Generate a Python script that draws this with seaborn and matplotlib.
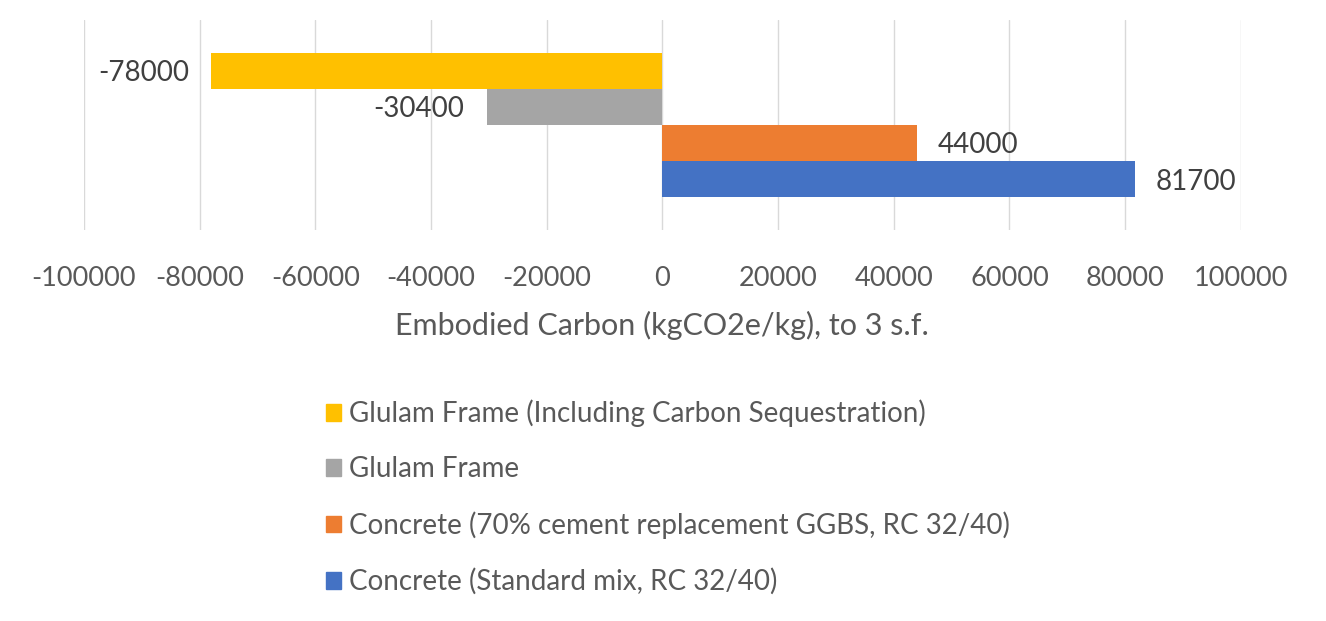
import matplotlib
matplotlib.use("Agg")
import matplotlib.pyplot as plt
import matplotlib.patches as mpatches
import pandas as pd
import seaborn as sns

# dados
series = [
    "Glulam Frame (Including Carbon Sequestration)",
    "Glulam Frame",
    "Concrete (70% cement replacement GGBS, RC 32/40)",
    "Concrete (Standard mix, RC 32/40)",
]
values = [-78000, -30400, 44000, 81700]
colors = ["#FFC000", "#A5A5A5", "#ED7D31", "#4472C4"]
ticks = [-100000, -80000, -60000, -40000, -20000, 0, 20000, 40000, 60000, 80000, 100000]

sns.set_style("white")
plt.rcParams["font.family"] = ["Lato", "DejaVu Sans"]
txt = "#595959"

df = pd.DataFrame({"serie": series, "valor": values})

fig = plt.figure(figsize=(13.26, 6.21), dpi=100)
ax = fig.add_axes([0.0633, 0.6296, 0.8725, 0.338])

sns.barplot(data=df, x="valor", y="serie", hue="serie", palette=colors,
            orient="h", width=1.0, dodge=False, legend=False, saturation=1,
            linewidth=0, ax=ax)

ax.set_xlim(-100000, 100000)
ax.set_ylim(4.4, -1.4)
ax.set_xticks(ticks)
ax.set_xticklabels([str(t) for t in ticks])
ax.tick_params(axis="x", length=0, pad=26, labelsize=19.5, labelcolor=txt)
ax.set_yticks([])
ax.set_ylabel("")
ax.set_xlabel("Embodied Carbon (kgCO2e/kg), to 3 s.f.", fontsize=22, color=txt, labelpad=14)
ax.grid(axis="x", color="#D9D9D9", linewidth=1)
ax.set_axisbelow(True)
for s in ax.spines.values():
    s.set_visible(False)

# rótulos de valor
for i, v in enumerate(values):
    off = 3600 if v > 0 else -3800
    ax.text(v + off, i + 0.06, str(v), ha="left" if v > 0 else "right", va="center",
            fontsize=20, color="#404040")

handles = [mpatches.Patch(color=c, label=s) for c, s in zip(colors, series)]
leg = fig.legend(handles=handles, loc="upper left", bbox_to_anchor=(0.227, 0.397),
                 frameon=False, fontsize=20, handlelength=0.54, handleheight=0.54,
                 handletextpad=0.3, labelspacing=1.05)
for t in leg.get_texts():
    t.set_color(txt)

fig.savefig("out.png", dpi=100)
